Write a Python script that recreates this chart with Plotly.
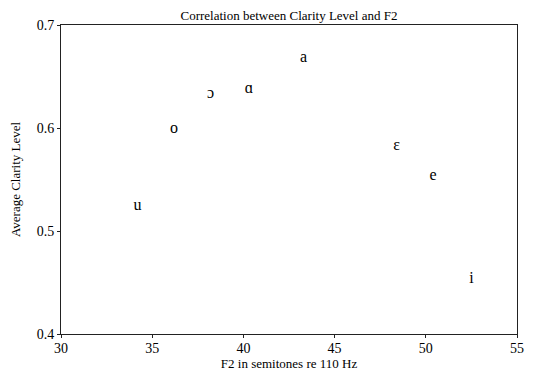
import plotly.graph_objects as go

vowels = ["u", "o", "ɔ", "ɑ", "a", "ɛ", "e", "i"]
f2 = [34.2, 36.2, 38.2, 40.3, 43.3, 48.4, 50.4, 52.5]
clarity = [0.524, 0.599, 0.633, 0.638, 0.668, 0.583, 0.553, 0.453]

font = "Liberation Serif, Times New Roman, serif"

fig = go.Figure(go.Scatter(
    x=f2, y=clarity, text=vowels, mode="text",
    textposition="middle center",
    textfont=dict(family=font, size=16, color="black"),
    hoverinfo="skip",
))

axis_common = dict(
    showline=True, linecolor="#222", linewidth=1, mirror=True,
    ticks="outside", ticklen=3, tickcolor="#222", tickwidth=1,
    showgrid=False, zeroline=False, automargin=False,
    tickfont=dict(family=font, size=14, color="black"),
)

# page body has an 8px default margin; figure is sized to fit the window
fig.update_layout(
    width=525, height=365,
    margin=dict(l=53, r=16, t=17, b=39),
    paper_bgcolor="white", plot_bgcolor="white",
    showlegend=False,
    title=dict(text="Correlation between Clarity Level and F2",
               x=0.5, xref="paper", y=1.0, yanchor="top",
               pad=dict(t=3, b=0, l=0, r=0),
               font=dict(family=font, size=13, color="black")),
    xaxis=dict(range=[30, 55], tickvals=[30, 35, 40, 45, 50, 55],
               ticklabelstandoff=-2,
               title=dict(text="F2 in semitones re 110 Hz", standoff=0,
                          font=dict(family=font, size=13, color="black")),
               **axis_common),
    yaxis=dict(range=[0.4, 0.7], tickvals=[0.4, 0.5, 0.6, 0.7],
               tickformat=".1f",
               title=dict(text="Average Clarity Level", standoff=14,
                          font=dict(family=font, size=13, color="black")),
               **axis_common),
)

fig.write_html("out.html")
